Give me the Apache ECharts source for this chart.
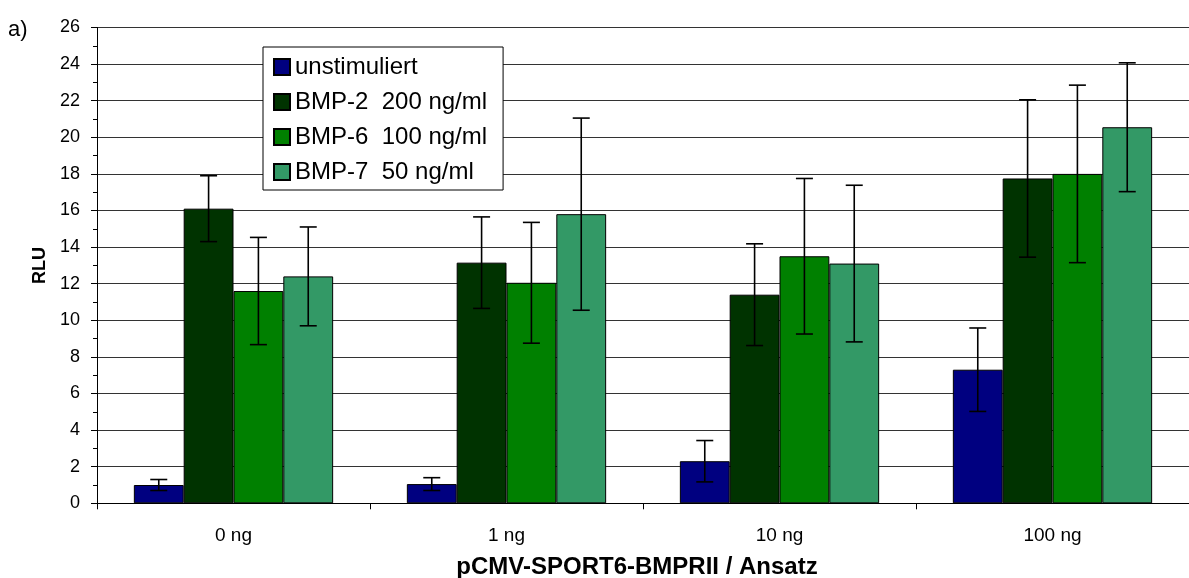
<!DOCTYPE html>
<html>
<head>
<meta charset="utf-8">
<script src="https://cdn.jsdelivr.net/npm/echarts@6/dist/echarts.min.js"></script>
<style>
html,body{margin:0;padding:0;background:#fff;}
#chart{width:1189px;height:578px;}
</style>
</head>
<body>
<div id="chart"></div>
<script>
const categories = ['0 ng', '1 ng', '10 ng', '100 ng'];
const seriesNames = ['unstimuliert', 'BMP-2  200 ng/ml', 'BMP-6  100 ng/ml', 'BMP-7  50 ng/ml'];
const seriesColors = ['#000080', '#003300', '#008000', '#339966'];
const unstimuliert = [1.0, 1.05, 2.3, 7.3];
const bmp2 = [16.1, 13.15, 11.4, 17.75];
const bmp6 = [11.6, 12.05, 13.5, 18.0];
const bmp7 = [12.4, 15.8, 13.1, 20.55];
const errUnstimuliert = [0.3, 0.35, 1.13, 2.28];
const errBmp2 = [1.8, 2.5, 2.78, 4.3];
const errBmp6 = [2.93, 3.3, 4.25, 4.85];
const errBmp7 = [2.7, 5.25, 4.28, 3.52];
const yTicks = [0, 2, 4, 6, 8, 10, 12, 14, 16, 18, 20, 22, 24, 26];

const values = [unstimuliert, bmp2, bmp6, bmp7];
const errors = [errUnstimuliert, errBmp2, errBmp6, errBmp7];
const nSeries = values.length;
const catGap = 0.27;

const chart = echarts.init(document.getElementById('chart'));
const series = [];
values.forEach((vals, i) => {
  series.push({
    name: seriesNames[i],
    type: 'bar',
    data: vals,
    barGap: '0%',
    barCategoryGap: (catGap * 100) + '%',
    itemStyle: { color: seriesColors[i], borderColor: '#000', borderWidth: 1 },
    emphasis: { disabled: true },
    z: 2
  });
});
values.forEach((vals, i) => {
  series.push({
    type: 'custom',
    name: 'err' + i,
    data: vals.map((v, k) => [k, v - errors[i][k], v + errors[i][k]]),
    z: 5,
    silent: true,
    renderItem: function (params, api) {
      const k = api.value(0);
      const lo = api.coord([k, api.value(1)]);
      const hi = api.coord([k, api.value(2)]);
      const band = api.size([1, 0])[0];
      const bw = band * (1 - catGap) / nSeries;
      const x = lo[0] - band * (1 - catGap) / 2 + bw * (i + 0.5);
      const cap = 8.5;
      const st = { stroke: '#000', lineWidth: 1.6 };
      return {
        type: 'group',
        children: [
          { type: 'line', shape: { x1: x, y1: lo[1], x2: x, y2: hi[1] }, style: st },
          { type: 'line', shape: { x1: x - cap, y1: lo[1], x2: x + cap, y2: lo[1] }, style: st },
          { type: 'line', shape: { x1: x - cap, y1: hi[1], x2: x + cap, y2: hi[1] }, style: st }
        ]
      };
    }
  });
});

chart.setOption({
  backgroundColor: '#fff',
  animation: false,
  textStyle: { fontFamily: 'Liberation Sans, Arial, sans-serif' },
  graphic: [{
    type: 'text', left: 8, top: 19,
    style: { text: 'a)', font: '22px "Liberation Sans", Arial, sans-serif', fill: '#000' }
  }],
  legend: {
    data: seriesNames,
    orient: 'vertical',
    left: 263, top: 47,
    padding: [8, 16, 6, 10],
    itemGap: 11,
    itemWidth: 16, itemHeight: 16,
    icon: 'rect',
    backgroundColor: '#fff',
    borderColor: '#000', borderWidth: 1,
    textStyle: { fontSize: 24, color: '#000', fontFamily: 'Liberation Sans, Arial, sans-serif' },
    selectedMode: false
  },
  grid: { left: 97, right: 0, top: 27.5, bottom: 74.7, containLabel: false, outerBoundsMode: 'none' },
  xAxis: {
    type: 'category',
    data: categories,
    boundaryGap: true,
    axisLine: { lineStyle: { color: '#000', width: 1 } },
    axisTick: { show: true, length: 6, inside: false, lineStyle: { color: '#000' } },
    axisLabel: { color: '#000', fontSize: 19, margin: 23 },
    name: 'pCMV-SPORT6-BMPRII / Ansatz',
    nameLocation: 'middle',
    nameGap: 52,
    nameTextStyle: { fontSize: 24, fontWeight: 'bold', color: '#000', padding: [0, 12, 0, 0] }
  },
  yAxis: {
    type: 'value',
    min: 0, max: 26, interval: 2,
    axisLine: { show: true, lineStyle: { color: '#000', width: 1 } },
    axisTick: { show: true, length: 6, lineStyle: { color: '#000' } },
    minorTick: { show: true, splitNumber: 2, length: 4, lineStyle: { color: '#000' } },
    splitLine: { show: true, lineStyle: { color: '#333', width: 1 } },
    axisLabel: {
      color: '#000', fontSize: 18, margin: 17,
      formatter: v => (yTicks.indexOf(v) >= 0 ? String(v) : '')
    },
    name: 'RLU',
    nameLocation: 'middle',
    nameRotate: 90,
    nameGap: 46,
    nameTextStyle: { fontSize: 18, fontWeight: 'bold', color: '#000' }
  },
  series: series
});
</script>
</body>
</html>
